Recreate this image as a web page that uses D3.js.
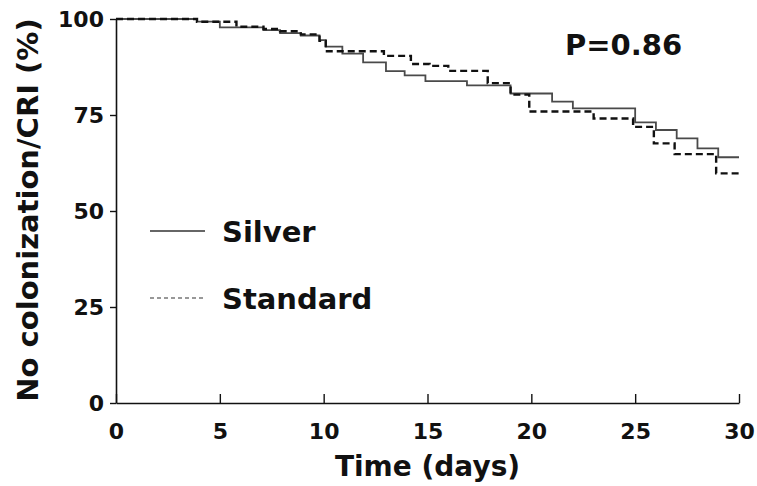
<!DOCTYPE html>
<html lang="en">
<head>
<meta charset="utf-8">
<title>Kaplan-Meier Silver vs Standard</title>
<script src="https://d3js.org/d3.v7.min.js"></script>
<style>
  body { margin: 0; background: #fff; }
  text { font-family: "DejaVu Sans", Arial, sans-serif; font-weight: bold; fill: #111; }
</style>
</head>
<body>
<script>
// step curves (time in days, % free of colonization/CRI)
var silverTime = [0, 3.9, 5.0, 7.1, 7.9, 8.9, 9.8, 10.1, 10.9, 11.9, 13.0, 13.9, 14.9, 16.9, 19.0, 21.0, 22.0, 25.0, 26.0, 27.0, 28.0, 29.0, 30];
var silverSurv = [100, 99.3, 97.8, 97.1, 96.3, 95.7, 94.5, 92.8, 91.0, 88.7, 86.4, 85.3, 83.8, 82.7, 80.6, 78.5, 76.7, 73.1, 71.1, 68.9, 66.3, 64.0, 64.0];
var standardTime = [0, 3.9, 5.8, 7.1, 7.9, 8.9, 9.8, 10.1, 12.9, 14.2, 15.1, 16.0, 17.9, 19.0, 19.9, 23.0, 24.9, 25.9, 26.9, 28.9, 30];
var standardSurv = [100, 99.3, 98.0, 97.4, 96.8, 96.0, 94.3, 91.6, 90.4, 88.3, 87.8, 86.5, 83.3, 80.3, 75.9, 74.1, 71.9, 67.6, 64.8, 59.8, 59.8];
var xTicks = [0, 5, 10, 15, 20, 25, 30];
var yTicks = [0, 25, 50, 75, 100];
var legendNames = ["Silver", "Standard"];
var pLabel = "P=0.86";

var svg = d3.select("body").append("svg")
  .attr("width", 757)
  .attr("height", 486);

var x = d3.scaleLinear().domain([0, 30]).range([116, 739]);
var y = d3.scaleLinear().domain([0, 100]).range([403, 19]);

// axes
var xAxis = svg.append("g")
  .attr("transform", "translate(0,403)")
  .call(d3.axisBottom(x).tickValues(xTicks).tickSizeInner(-9).tickSizeOuter(0).tickPadding(20));
var yAxis = svg.append("g")
  .attr("transform", "translate(116,0)")
  .call(d3.axisLeft(y).tickValues(yTicks).tickSizeInner(6).tickSizeOuter(0).tickPadding(6));

[xAxis, yAxis].forEach(function(g) {
  g.select(".domain").attr("stroke", "#111").attr("stroke-width", 1.6);
  g.selectAll(".tick line").attr("stroke", "#111").attr("stroke-width", 1.4);
  g.selectAll(".tick text").attr("font-size", 22).attr("fill", "#111")
    .style("font-family", "'DejaVu Sans', Arial, sans-serif").style("font-weight", "bold");
});
yAxis.selectAll(".tick text").attr("dy", "0.36em");

// curves
var line = d3.line()
  .x(d => x(d[0]))
  .y(d => y(d[1]))
  .curve(d3.curveStepAfter);

var silver = silverTime.map((t, i) => [t, silverSurv[i]]);
var standard = standardTime.map((t, i) => [t, standardSurv[i]]);

svg.append("path")
  .datum(silver)
  .attr("fill", "none")
  .attr("stroke", "#4a4a4a")
  .attr("stroke-width", 1.8)
  .attr("d", line);

svg.append("path")
  .datum(standard)
  .attr("fill", "none")
  .attr("stroke", "#111")
  .attr("stroke-width", 2.4)
  .attr("stroke-dasharray", "7,4")
  .attr("d", line);

// legend
var legend = svg.append("g");
legend.append("line")
  .attr("x1", 150).attr("x2", 205).attr("y1", 231).attr("y2", 231)
  .attr("stroke", "#333").attr("stroke-width", 1.4);
legend.append("line")
  .attr("x1", 150).attr("x2", 205).attr("y1", 298).attr("y2", 298)
  .attr("stroke", "#333").attr("stroke-width", 1.2).attr("stroke-dasharray", "4,3");
legend.selectAll("text.lg")
  .data(legendNames)
  .enter()
  .append("text")
  .attr("class", "lg")
  .attr("x", 222)
  .attr("y", (d, i) => 242 + i * 67)
  .attr("font-size", 29)
  .text(d => d);

// p value
svg.append("text")
  .attr("x", 565)
  .attr("y", 55)
  .attr("font-size", 29)
  .text(pLabel);

// axis titles
svg.append("text")
  .attr("x", x(15))
  .attr("y", 476)
  .attr("text-anchor", "middle")
  .attr("font-size", 28)
  .text("Time (days)");

svg.append("text")
  .attr("transform", "translate(38,210) rotate(-90)")
  .attr("text-anchor", "middle")
  .attr("font-size", 29)
  .text("No colonization/CRI (%)");
</script>
</body>
</html>
